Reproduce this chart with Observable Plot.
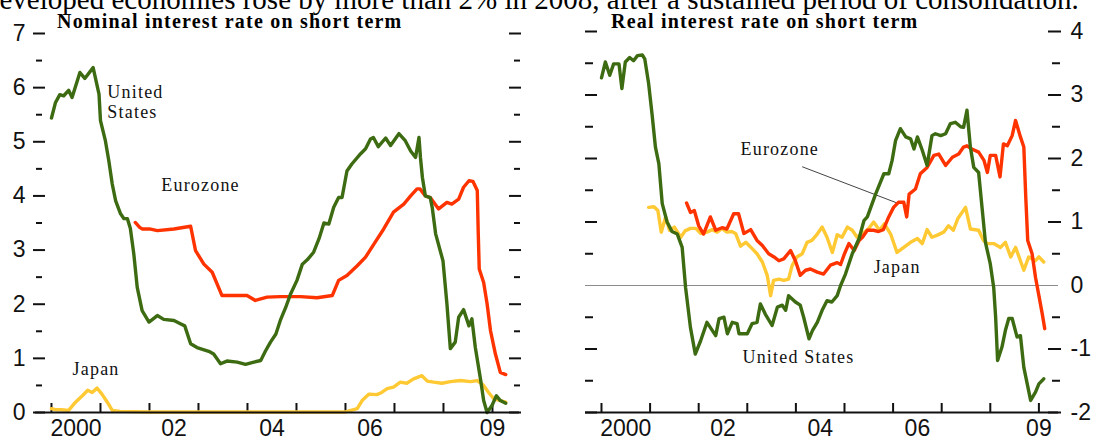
<!DOCTYPE html>
<html><head><meta charset="utf-8">
<script src="https://cdn.jsdelivr.net/npm/d3@7"></script>
<script src="https://cdn.jsdelivr.net/npm/@observablehq/plot@0.6"></script>
<style>
body{margin:0;background:#fff;}
#wrap{position:relative;width:1099px;height:439px;overflow:hidden;background:#fff;}
.panel{position:absolute;top:0;}
.banner{position:absolute;left:-15px;top:-15px;font-family:"Liberation Serif","Times New Roman",serif;font-size:29px;line-height:29px;white-space:nowrap;color:#000;}
.title{position:absolute;top:11px;font-family:"Liberation Serif","Times New Roman",serif;font-weight:bold;font-size:20px;line-height:20px;letter-spacing:1.2px;white-space:nowrap;color:#000;}
</style>
</head><body>
<div id="wrap">
  <div id="left" class="panel" style="left:0"></div>
  <div id="right" class="panel" style="left:550px"></div>
  <div class="banner">developed economies rose by more than 2% in 2008, after a sustained period of consolidation.</div>
  <div class="title" style="left:57px">Nominal interest rate on short term</div>
  <div class="title" style="left:611px">Real interest rate on short term</div>
</div>
<script>
// ---------------- data ----------------
const colors = {us: "#3d6b12", euro: "#ff3300", japan: "#ffc933"};

const xTickYears = [2000, 2001, 2002, 2003, 2004, 2005, 2006, 2007, 2008, 2009];
const xLabelPos = [2000.5, 2002.5, 2004.5, 2006.5, 2009];
const xLabelText = ["2000", "02", "04", "06", "09"];

const leftYTicks = [0, 1, 2, 3, 4, 5, 6, 7];
const leftYMinor = [0.5, 1.5, 2.5, 3.5, 4.5, 5.5, 6.5];
const rightYTicks = [-2, -1, 0, 1, 2, 3, 4];
const rightYMinor = [-1.5, -0.5, 0.5, 1.5, 2.5, 3.5];

// Nominal short-term rates (%)
const usNominal = [
[2000.00,5.44],[2000.08,5.72],[2000.17,5.87],[2000.25,5.85],[2000.35,5.95],[2000.42,5.82],[2000.58,6.28],[2000.68,6.17],[2000.85,6.37],[2000.97,5.88],
[2001.00,5.39],[2001.10,5.02],[2001.17,4.65],[2001.24,4.22],[2001.31,3.91],[2001.41,3.67],[2001.48,3.58],[2001.55,3.58],[2001.61,3.40],[2001.68,2.93],
[2001.75,2.31],[2001.85,1.88],[2001.99,1.67],[2002.16,1.79],[2002.29,1.72],[2002.50,1.70],[2002.63,1.64],[2002.72,1.60],[2002.84,1.27],[2002.97,1.20],
[2003.21,1.13],[2003.31,1.08],[2003.45,0.90],[2003.58,0.95],[2003.79,0.93],[2003.96,0.89],[2004.13,0.93],[2004.27,0.96],[2004.37,1.14],[2004.47,1.30],
[2004.58,1.45],[2004.67,1.70],[2004.78,1.94],[2004.88,2.19],[2005.01,2.44],[2005.12,2.74],[2005.22,2.82],[2005.35,2.96],[2005.46,3.21],[2005.56,3.50],
[2005.66,3.48],[2005.76,3.79],[2005.86,3.97],[2005.93,3.97],[2006.03,4.46],[2006.13,4.59],[2006.31,4.78],[2006.41,4.87],[2006.51,5.05],[2006.57,5.08],
[2006.67,4.91],[2006.82,5.07],[2006.92,4.93],[2007.09,5.15],[2007.22,5.02],[2007.33,4.83],[2007.43,4.71],[2007.50,5.08],[2007.53,4.71],[2007.57,4.34],
[2007.63,4.00],[2007.73,3.97],[2007.77,3.79],[2007.84,3.30],[2007.99,2.80],[2008.07,2.01],[2008.14,1.18],[2008.24,1.30],[2008.31,1.76],[2008.41,1.90],
[2008.52,1.60],[2008.58,1.73],[2008.65,1.20],[2008.76,0.59],[2008.82,0.22],[2008.89,0.00],[2008.99,0.13],[2009.08,0.31],[2009.16,0.22],[2009.27,0.17]
];
const euroNominal = [
[2001.71,3.51],[2001.80,3.42],[2001.85,3.39],[2002.00,3.39],[2002.16,3.36],[2002.50,3.39],[2002.84,3.44],[2002.94,2.99],[2003.11,2.74],[2003.28,2.59],
[2003.48,2.16],[2003.72,2.16],[2003.99,2.16],[2004.16,2.07],[2004.40,2.13],[2004.67,2.14],[2005.08,2.14],[2005.42,2.12],[2005.73,2.16],[2005.86,2.44],
[2006.03,2.53],[2006.24,2.71],[2006.41,2.87],[2006.58,3.11],[2006.78,3.39],[2006.98,3.70],[2007.19,3.85],[2007.33,4.00],[2007.46,4.13],[2007.52,4.13],
[2007.63,4.00],[2007.73,3.97],[2007.90,3.76],[2008.07,3.88],[2008.17,3.85],[2008.31,3.94],[2008.41,4.16],[2008.52,4.28],[2008.60,4.27],[2008.69,4.10],
[2008.71,3.30],[2008.73,2.65],[2008.82,2.40],[2008.89,2.01],[2008.96,1.51],[2009.06,1.08],[2009.16,0.74],[2009.27,0.70]
];
const japanNominal = [
[2000.00,0.07],[2000.10,0.05],[2000.20,0.05],[2000.35,0.04],[2000.49,0.19],[2000.63,0.31],[2000.74,0.41],[2000.83,0.37],[2000.93,0.45],[2001.03,0.34],
[2001.14,0.19],[2001.24,0.04],[2001.40,0.02],[2002.00,0.01],[2003.00,0.01],[2004.00,0.01],[2005.00,0.01],[2006.00,0.01],[2006.24,0.07],[2006.34,0.22],
[2006.48,0.34],[2006.64,0.33],[2006.74,0.37],[2006.85,0.44],[2006.98,0.47],[2007.12,0.56],[2007.25,0.54],[2007.39,0.62],[2007.56,0.68],[2007.67,0.58],
[2007.80,0.56],[2007.97,0.54],[2008.14,0.57],[2008.35,0.59],[2008.55,0.57],[2008.69,0.59],[2008.82,0.50],[2008.92,0.37],[2009.03,0.25],[2009.16,0.22],[2009.27,0.19]
];

// Real short-term rates (%)
const usReal = [
[2000.00,3.27],[2000.08,3.52],[2000.17,3.31],[2000.25,3.49],[2000.36,3.49],[2000.42,3.10],[2000.49,3.52],[2000.58,3.59],[2000.66,3.54],[2000.74,3.62],
[2000.84,3.63],[2000.89,3.57],[2000.97,3.18],[2001.04,2.70],[2001.11,2.18],[2001.18,1.92],[2001.25,1.29],[2001.35,1.00],[2001.45,0.85],[2001.56,0.81],
[2001.66,0.60],[2001.73,-0.03],[2001.83,-0.66],[2001.93,-1.08],[2002.04,-0.87],[2002.17,-0.58],[2002.35,-0.79],[2002.42,-0.52],[2002.52,-0.50],[2002.59,-0.76],
[2002.69,-0.58],[2002.79,-0.60],[2002.83,-0.76],[2003.00,-0.76],[2003.10,-0.60],[2003.20,-0.58],[2003.27,-0.29],[2003.37,-0.45],[2003.51,-0.63],[2003.62,-0.34],
[2003.72,-0.31],[2003.79,-0.39],[2003.85,-0.16],[2003.99,-0.26],[2004.09,-0.31],[2004.16,-0.50],[2004.27,-0.84],[2004.34,-0.71],[2004.44,-0.58],[2004.54,-0.39],
[2004.64,-0.24],[2004.74,-0.26],[2004.85,-0.16],[2004.92,0.00],[2005.02,0.18],[2005.16,0.50],[2005.30,0.74],[2005.40,1.02],[2005.47,1.08],[2005.64,1.44],
[2005.81,1.76],[2005.91,1.76],[2005.98,1.97],[2006.05,2.28],[2006.15,2.47],[2006.26,2.34],[2006.36,2.31],[2006.43,2.15],[2006.50,2.34],[2006.60,2.13],
[2006.70,1.89],[2006.80,2.36],[2006.87,2.39],[2006.98,2.36],[2007.08,2.39],[2007.18,2.55],[2007.28,2.57],[2007.39,2.50],[2007.45,2.49],[2007.52,2.76],
[2007.59,2.18],[2007.66,1.86],[2007.76,1.78],[2007.83,1.23],[2007.90,0.68],[2008.00,0.34],[2008.07,-0.03],[2008.11,-0.50],[2008.15,-1.18],[2008.24,-0.97],
[2008.31,-0.71],[2008.38,-0.52],[2008.45,-0.52],[2008.55,-0.81],[2008.62,-0.79],[2008.69,-1.29],[2008.76,-1.55],[2008.83,-1.81],[2008.93,-1.68],[2009.00,-1.55],[2009.10,-1.47]
];
const euroReal = [
[2001.75,1.30],[2001.83,1.15],[2001.91,1.18],[2002.00,0.94],[2002.10,0.81],[2002.24,1.08],[2002.35,0.87],[2002.48,0.91],[2002.58,0.89],[2002.72,1.13],
[2002.82,1.13],[2002.93,0.82],[2003.07,0.88],[2003.20,0.71],[2003.31,0.63],[2003.44,0.50],[2003.55,0.45],[2003.65,0.39],[2003.75,0.42],[2003.89,0.55],
[2003.99,0.39],[2004.09,0.16],[2004.20,0.24],[2004.30,0.26],[2004.44,0.21],[2004.57,0.18],[2004.71,0.32],[2004.85,0.36],[2004.92,0.33],[2005.00,0.50],
[2005.09,0.66],[2005.20,0.55],[2005.30,0.71],[2005.37,0.76],[2005.47,0.87],[2005.60,0.87],[2005.70,0.85],[2005.80,0.88],[2005.91,1.08],[2006.01,1.23],
[2006.11,1.31],[2006.22,1.31],[2006.28,1.08],[2006.33,1.44],[2006.46,1.52],[2006.56,1.76],[2006.70,1.86],[2006.84,2.05],[2006.94,2.07],[2007.08,1.89],
[2007.22,2.02],[2007.35,2.07],[2007.45,2.18],[2007.52,2.20],[2007.62,2.15],[2007.76,2.10],[2007.87,1.97],[2007.94,1.78],[2008.00,2.05],[2008.11,2.05],
[2008.20,1.71],[2008.27,2.23],[2008.35,2.20],[2008.45,2.36],[2008.52,2.60],[2008.62,2.34],[2008.69,2.18],[2008.73,1.39],[2008.77,0.71],[2008.86,0.50],
[2008.93,0.13],[2009.00,-0.16],[2009.07,-0.45],[2009.12,-0.68]
];
const japanReal = [
[2000.97,1.23],[2001.08,1.24],[2001.16,1.18],[2001.23,0.84],[2001.32,1.08],[2001.40,0.87],[2001.50,0.92],[2001.63,0.76],[2001.72,0.86],[2001.83,0.90],
[2001.94,0.90],[2002.04,0.82],[2002.17,0.84],[2002.28,0.88],[2002.38,0.84],[2002.48,0.90],[2002.58,0.84],[2002.68,0.85],[2002.76,0.82],[2002.86,0.62],
[2002.97,0.68],[2003.10,0.58],[2003.20,0.50],[2003.31,0.37],[2003.41,0.16],[2003.48,-0.16],[2003.54,0.08],[2003.65,0.10],[2003.75,0.08],[2003.85,0.10],
[2003.92,0.31],[2004.02,0.45],[2004.13,0.50],[2004.23,0.68],[2004.33,0.71],[2004.44,0.81],[2004.54,0.92],[2004.64,0.76],[2004.75,0.52],[2004.85,0.80],
[2004.95,0.76],[2005.06,0.92],[2005.16,0.87],[2005.26,0.76],[2005.36,0.81],[2005.49,0.89],[2005.60,1.00],[2005.72,0.87],[2005.82,0.97],[2005.95,0.81],
[2006.08,0.52],[2006.22,0.60],[2006.36,0.68],[2006.50,0.74],[2006.60,0.66],[2006.70,0.88],[2006.80,0.76],[2006.90,0.79],[2007.04,0.84],[2007.14,0.94],
[2007.24,0.87],[2007.33,1.05],[2007.49,1.23],[2007.59,0.89],[2007.76,0.87],[2007.86,0.71],[2007.94,0.66],[2008.07,0.66],[2008.21,0.60],[2008.31,0.68],
[2008.42,0.45],[2008.52,0.60],[2008.62,0.39],[2008.69,0.24],[2008.79,0.45],[2008.93,0.39],[2009.00,0.45],[2009.10,0.37]
];

const leftNotes = [
  {label: "United", x: 2001.14, y: 5.91},
  {label: "States", x: 2001.14, y: 5.55},
  {label: "Eurozone", x: 2002.24, y: 4.20},
  {label: "Japan", x: 2000.43, y: 0.79}
];
const rightNotes = [
  {label: "Eurozone", x: 2002.86, y: 2.14},
  {label: "Japan", x: 2005.60, y: 0.28},
  {label: "United States", x: 2002.90, y: -1.13}
];
const rightLeader = [{x1: 2004.13, y1: 1.87, x2: 2006.08, y2: 1.30}];

// axis line extents (years)
const leftAxisSpan = [1999.673, 2009.551];
const rightAxisSpan = [1999.671, 2009.403];

// ---------------- build ----------------
const toRows = (arr) => arr.map(([t, v]) => ({t, v}));
const serif = "'Liberation Serif','Times New Roman',serif";
const sans = "'Liberation Sans',Arial,sans-serif";
const fmtLabel = d => xLabelText[xLabelPos.indexOf(d)];
const fmtY = d => d < 0 ? "-" + Math.abs(d) : String(d);
const blank = () => "";
const rightTickNoZero = rightYTicks.filter(d => d !== 0);

function seriesMarks(j, e, u) {
  return [
    Plot.line(toRows(j), {x: "t", y: "v", stroke: colors.japan, strokeWidth: 3.4, strokeLinejoin: "round"}),
    Plot.line(toRows(e), {x: "t", y: "v", stroke: colors.euro, strokeWidth: 3.4, strokeLinejoin: "round"}),
    Plot.line(toRows(u), {x: "t", y: "v", stroke: colors.us, strokeWidth: 3.4, strokeLinejoin: "round"})
  ];
}

const leftChart = Plot.plot({
  width: 550, height: 439,
  marginLeft: 45, marginRight: 42, marginTop: 33, marginBottom: 27,
  x: {domain: [1999.878, 2009.327], label: null},
  y: {domain: [0, 7], label: null},
  style: {fontFamily: sans, color: "#111", background: "transparent", overflow: "visible"},
  marks: [
    Plot.axisY(leftYTicks, {anchor: "left", tickSize: 12, tickPadding: 8, fontSize: 23, strokeWidth: 2, tickFormat: fmtY, label: null}),
    Plot.axisY(leftYMinor, {anchor: "left", tickSize: 6, dx: -3, strokeWidth: 2, tickFormat: blank, label: null}),
    Plot.axisY(leftYTicks, {anchor: "right", tickSize: 12, strokeWidth: 2, tickFormat: blank, label: null}),
    Plot.axisY(leftYMinor, {anchor: "right", tickSize: 6, dx: 5, strokeWidth: 2, tickFormat: blank, label: null}),
    Plot.axisX(xTickYears, {anchor: "bottom", tickSize: 9, dy: -9, strokeWidth: 2, tickFormat: blank, label: null}),
    Plot.axisX(xLabelPos, {anchor: "bottom", tickSize: 0, tickPadding: 7, fontSize: 23, tickFormat: fmtLabel, label: null}),
    ...seriesMarks(japanNominal, euroNominal, usNominal),
    Plot.ruleY([0], {x1: leftAxisSpan[0], x2: leftAxisSpan[1], stroke: "#111", strokeWidth: 2}),
    Plot.text(leftNotes, {x: "x", y: "y", text: "label", textAnchor: "start", fontSize: 18, fontFamily: serif, fill: "#111"})
  ]
});

const rightChart = Plot.plot({
  width: 549, height: 439,
  marginLeft: 47, marginRight: 52, marginTop: 31, marginBottom: 27,
  x: {domain: [1999.918, 2009.177], label: null},
  y: {domain: [-2, 4], label: null},
  style: {fontFamily: sans, color: "#111", background: "transparent", overflow: "visible"},
  marks: [
    Plot.axisY(rightTickNoZero, {anchor: "left", tickSize: 12, strokeWidth: 2, tickFormat: blank, label: null}),
    Plot.axisY(rightYMinor, {anchor: "left", tickSize: 8, dx: -4, strokeWidth: 2, tickFormat: blank, label: null}),
    Plot.axisY(rightTickNoZero, {anchor: "right", tickSize: 13, strokeWidth: 2, tickFormat: blank, label: null}),
    Plot.axisY(rightYTicks, {anchor: "right", tickSize: 0, tickPadding: 23, fontSize: 23, tickFormat: fmtY, label: null}),
    Plot.axisY(rightYMinor, {anchor: "right", tickSize: 8, dx: 4, strokeWidth: 2, tickFormat: blank, label: null}),
    Plot.axisX(xTickYears, {anchor: "bottom", tickSize: 9, dy: -9, strokeWidth: 2, tickFormat: blank, label: null}),
    Plot.axisX(xLabelPos, {anchor: "bottom", tickSize: 0, tickPadding: 7, fontSize: 23, tickFormat: fmtLabel, label: null}),
    Plot.ruleY([0], {x1: rightAxisSpan[0], x2: rightAxisSpan[1], stroke: "#8c8c8c", strokeWidth: 1}),
    Plot.link(rightLeader, {x1: "x1", y1: "y1", x2: "x2", y2: "y2", stroke: "#444", strokeWidth: 1}),
    ...seriesMarks(japanReal, euroReal, usReal),
    Plot.ruleY([-2], {x1: rightAxisSpan[0], x2: rightAxisSpan[1], stroke: "#111", strokeWidth: 2}),
    Plot.text(rightNotes, {x: "x", y: "y", text: "label", textAnchor: "start", fontSize: 18, fontFamily: serif, fill: "#111"})
  ]
});

for (const svg of [leftChart, rightChart]) {
  d3.select(svg).selectAll('g[aria-label="text"] text').style("letter-spacing", "1.2px");
}
document.getElementById("left").appendChild(leftChart);
document.getElementById("right").appendChild(rightChart);
</script>
</body></html>
